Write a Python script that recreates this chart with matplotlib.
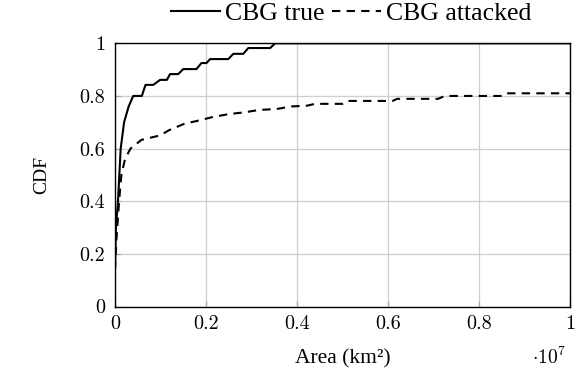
import matplotlib
matplotlib.use("Agg")
import matplotlib.pyplot as plt
from matplotlib.ticker import FuncFormatter

plt.rcParams['mathtext.fontset'] = 'cm'

# Data (x in units of 1e6 km^2)
true_x = [0, 0.02, 0.066, 0.125, 0.2, 0.3, 0.40, 0.59, 0.67, 0.84, 0.99, 1.14, 1.21, 1.39,
          1.50, 1.79, 1.90, 2.01, 2.09, 2.49, 2.60, 2.82, 2.93, 3.41, 3.52, 10]
true_y = [0.14, 0.30, 0.40, 0.60, 0.70, 0.76, 0.80, 0.80, 0.842, 0.842, 0.861, 0.861, 0.883, 0.883,
          0.902, 0.902, 0.925, 0.925, 0.940, 0.940, 0.960, 0.960, 0.982, 0.982, 1.0, 1.0]

att_x = [0, 0.03, 0.09, 0.14, 0.22, 0.34, 0.58, 0.99, 1.2, 1.52, 1.85, 2.15, 2.5, 2.86, 3.17,
         3.54, 3.87, 4.22, 4.4, 5.0, 5.1, 6.1, 6.2, 7.1, 7.25, 8.5, 8.6, 10]
att_y = [0.14, 0.25, 0.40, 0.50, 0.56, 0.60, 0.633, 0.65, 0.671, 0.694, 0.707, 0.72, 0.731, 0.738, 0.747,
         0.75, 0.76, 0.763, 0.77, 0.77, 0.781, 0.781, 0.789, 0.789, 0.80, 0.80, 0.81, 0.81]

series_labels = ["CBG true", "CBG attacked"]
x_ticks = [0, 0.2, 0.4, 0.6, 0.8, 1]
y_ticks = [0, 0.2, 0.4, 0.6, 0.8, 1]

W, H = 584, 386
fig = plt.figure(figsize=(W / 100, H / 100), dpi=100)
ax = fig.add_axes([115 / W, 1 - 306.5 / H, (570 - 115) / W, (306.5 - 43.3) / H])

scale = 1e6 / 1e7  # convert to units of 1e7
tx = [v * scale for v in true_x]
axx = [v * scale for v in att_x]

ax.plot(tx, true_y, color='black', lw=1.5, label=series_labels[0])
ax.plot(axx, att_y, color='black', lw=1.5, ls=(0, (4, 3)), label=series_labels[1])

ax.set_xlim(0, 1)
ax.set_ylim(0, 1)
ax.set_xticks(x_ticks)
ax.set_yticks(y_ticks)

def fmt(v, pos):
    if abs(v) < 1e-9:
        return "0"
    if abs(v - 1) < 1e-9:
        return "1"
    return f"{v:.1f}"

ax.xaxis.set_major_formatter(FuncFormatter(fmt))
ax.yaxis.set_major_formatter(FuncFormatter(fmt))

ax.grid(True, color='#cfcfcf', lw=0.9)
ax.set_axisbelow(True)
ax.tick_params(direction='in', length=4, width=0.9, color='#aaaaaa', pad=7,
               labelsize=14.5, labelfontfamily='cmr10')
ax.tick_params(axis='x', pad=6)
for s in ax.spines.values():
    s.set_linewidth(1.0)
    s.set_color('black')

serif = ['Liberation Serif', 'DejaVu Serif']
fig.text(343 / W, 1 - 359 / H, "Area (km²)", ha='center', va='center', fontsize=15.5, family=serif)
fig.text(42 / W, 1 - 175 / H, "CDF", ha='center', va='center', rotation=90, fontsize=14, family=serif)
fig.text(549 / W, 1 - 357 / H, r"$\cdot 10^{7}$", ha='center', va='center', fontsize=14)

fig.legend(loc='center', bbox_to_anchor=(351 / W, 1 - 13.5 / H), ncol=2, frameon=False,
           prop={'family': serif, 'size': 18.5}, handlelength=1.9, handletextpad=0.2,
           columnspacing=0.3, borderaxespad=0.0, borderpad=0.0)

fig.savefig("out.png", dpi=100)
